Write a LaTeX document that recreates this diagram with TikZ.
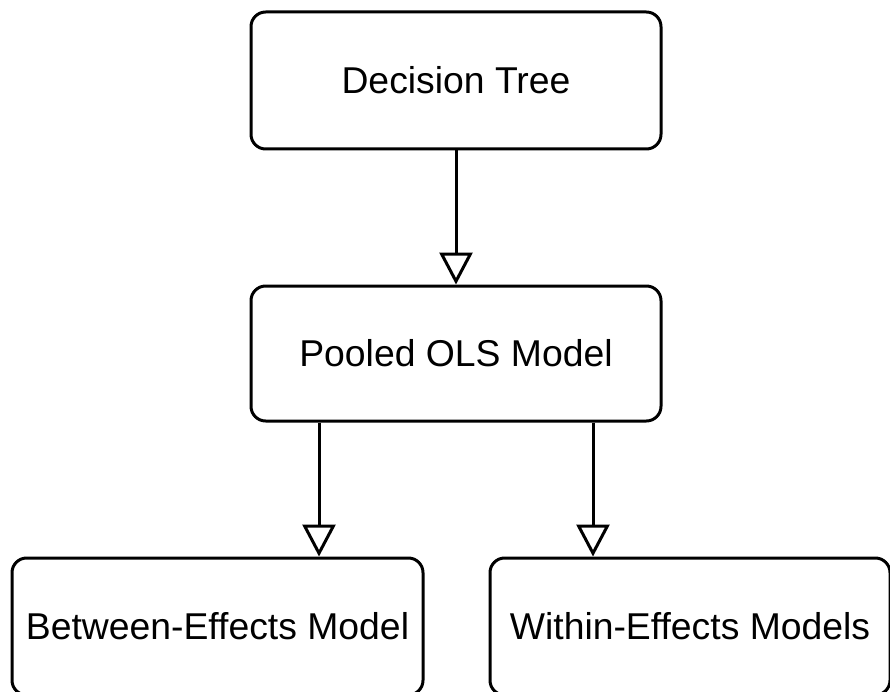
\documentclass[tikz,border=0pt]{standalone}
\usepackage{fontspec}
\setmainfont{Liberation Sans}
\usetikzlibrary{arrows.meta}

\begin{document}
\begin{tikzpicture}[x=0.75pt,y=-0.75pt,line width=2.25pt,node distance=204.75pt,
        box/.style={draw,rounded corners=11pt,inner sep=0pt,align=center,
            minimum height=102.75pt,font=\fontsize{28}{34}\selectfont},
        flow/.style={-{Triangle[open,length=24pt,width=24.75pt]}}]
        \path[use as bounding box,clip] (0,0) rectangle (890,692);

        \node[box,minimum width=307.5pt] (tree) at (456,80.5) {Decision Tree};
        \node[box,minimum width=307.5pt,minimum height=101.25pt] (pooled) [below of=tree] {Pooled OLS Model};
        \node[box,minimum width=308.25pt] (between) at (217.5,626.5) {Between-Effects Model};
        \node[box,minimum width=300pt] (within) at (690,626.5) {Within-Effects Models};

        \path[flow] (tree) edge (pooled);
        \foreach \s/\t in {-102.75/between,102.75/within}{
            \draw[flow] ([xshift=\s pt]pooled.south) -- ([xshift=\s pt]pooled.south |- \t.north);
        }
    \end{tikzpicture}
\end{document}
